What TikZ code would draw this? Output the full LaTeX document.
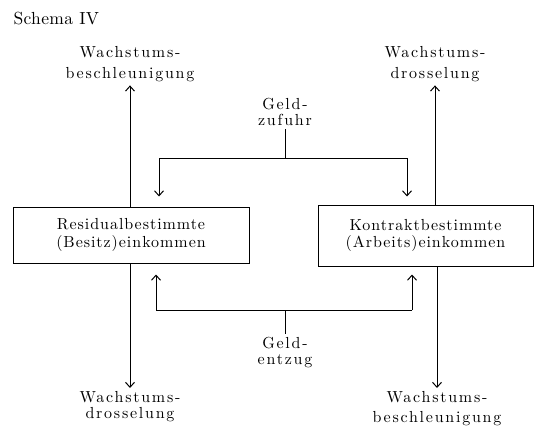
\documentclass[tikz,border=0pt]{standalone}
\usepackage{fontspec}
\newfontfamily\lblfont{lmroman10-regular.otf}[LetterSpace=11]
\newfontfamily\boxfont{lmroman10-regular.otf}[LetterSpace=6]
\newfontfamily\titlefont{lmroman10-regular.otf}[LetterSpace=2]
\usetikzlibrary{arrows.meta}
\begin{document}
\begin{tikzpicture}[x=1pt,y=-1pt,line width=1pt,
  box/.style={draw, inner sep=0pt, align=center, font=\boxfont\fontsize{16}{17.5}\selectfont},
  lbl/.style={inner sep=0pt, align=center, font=\lblfont\fontsize{16}{#1}\selectfont},
  lbl/.default=19,
  arr/.style={-{Straight Barb[length=5pt,width=9pt]}},
  gap/.style={shorten >=#1}]
\useasboundingbox (0,0) rectangle (544,428);

\node[anchor=base west, inner sep=0pt, font=\titlefont\fontsize{17.5}{18}\selectfont] (title) at (13,25) {Schema IV};

\node[box, minimum width=236pt, minimum height=56pt] (lbox) at (131,235) {Residualbestimmte\\(Besitz)einkommen};
\node[box, minimum width=215pt, minimum height=61pt] (rbox) at (425.5,235.5) {Kontraktbestimmte\\(Arbeits)einkommen};

\node[lbl=21, anchor=north] (tl) at (130,46) {Wachstums-\\beschleunigung};
\node[lbl=21, anchor=north] (tr) at (435,46) {Wachstums-\\drosselung};
\node[lbl=16, anchor=north] (zu) at (285,98) {Geld-\\zufuhr};
\node[lbl=16, anchor=north] (ent) at (285,337) {Geld-\\entzug};
\node[lbl=16, anchor=north] (bl) at (130,391) {Wachstums-\\drosselung};
\node[lbl=20, anchor=north] (br) at (437,391) {Wachstums-\\beschleunigung};

% upward / downward growth arrows
\draw[arr, gap=3pt] (lbox.north -| tl.south) -- (tl.south);
\draw[arr, gap=3pt] (rbox.north -| tr.south) -- (tr.south);
\draw[arr, gap=3pt] (lbox.south -| bl.north) -- (bl.north);
\draw[arr, gap=3pt] (rbox.south -| br.north) -- (br.north);

% Geld-Zufuhr
\coordinate (zj) at (285,158);
\coordinate (zl) at (159,158);
\coordinate (zr) at (407,158);
\draw[shorten <=3pt] (zu.south) -- (zj);
\draw (zl) -- (zr);
\draw[arr, gap=10pt] (zl) -- (zl |- lbox.north);
\draw[arr, gap=8pt] (zr) -- (zr |- rbox.north);

% Geld-Entzug
\coordinate (ej) at (285,310);
\coordinate (el) at (156,310);
\coordinate (er) at (412,310);
\draw[shorten >=3pt] (ej) -- (ent.north);
\draw (el) -- (er);
\draw[arr, gap=11pt] (el) -- (el |- lbox.south);
\draw[arr, gap=8pt] (er) -- (er |- rbox.south);
\end{tikzpicture}
\end{document}
